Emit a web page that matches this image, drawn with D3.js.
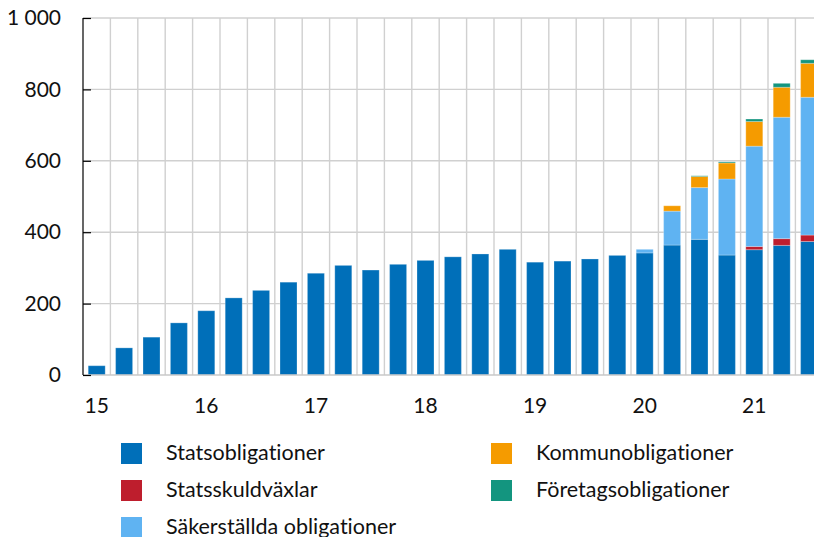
<!DOCTYPE html>
<html lang="sv">
<head>
    <meta charset="UTF-8">
    <title>Innehav</title>
    <script src="https://cdn.jsdelivr.net/npm/d3@7/dist/d3.min.js"></script>
    <style>
        html,
        body {
            margin: 0;
            background: #fff;
            overflow: hidden;
        }
        text {
            font-family: Lato, "Open Sans", sans-serif;
            font-variant-ligatures: none;
            fill: #111;
        }
    </style>
</head>
<body>
<svg id="container"></svg>
<script>
    // kvartal 2015 K1 - 2021 K3
    const quarters = [
        '15K1', '15K2', '15K3', '15K4',
        '16K1', '16K2', '16K3', '16K4',
        '17K1', '17K2', '17K3', '17K4',
        '18K1', '18K2', '18K3', '18K4',
        '19K1', '19K2', '19K3', '19K4',
        '20K1', '20K2', '20K3', '20K4',
        '21K1', '21K2', '21K3'
    ];
    const yearLabels = ['15', '16', '17', '18', '19', '20', '21'];
    const yTicks = [0, 200, 400, 600, 800, 1000];

    const statsobligationer = [26, 76, 106, 146, 180, 216, 237, 260, 285, 307, 294, 310, 321, 331, 339, 352, 316, 319, 325, 335, 342, 364, 380, 336, 351, 363, 374];
    const statsskuldvaxlar  = [0, 0, 0, 0, 0, 0, 0, 0, 0, 0, 0, 0, 0, 0, 0, 0, 0, 0, 0, 0, 0, 0, 0, 0, 9, 19, 18];
    const sakerstallda      = [0, 0, 0, 0, 0, 0, 0, 0, 0, 0, 0, 0, 0, 0, 0, 0, 0, 0, 0, 0, 10, 95, 145, 213, 281, 340, 386];
    const kommun            = [0, 0, 0, 0, 0, 0, 0, 0, 0, 0, 0, 0, 0, 0, 0, 0, 0, 0, 0, 0, 0, 15, 31, 45, 69, 84, 95];
    const foretag           = [0, 0, 0, 0, 0, 0, 0, 0, 0, 0, 0, 0, 0, 0, 0, 0, 0, 0, 0, 0, 0, 0, 2, 3, 7, 11, 10];

    const series = [
        {key: 'stats', name: 'Statsobligationer', values: statsobligationer, color: '#006fb9'},
        {key: 'vaxlar', name: 'Statsskuldväxlar', values: statsskuldvaxlar, color: '#be1e2d'},
        {key: 'saker', name: 'Säkerställda obligationer', values: sakerstallda, color: '#5fb3f2'},
        {key: 'kommun', name: 'Kommunobligationer', values: kommun, color: '#f59b00'},
        {key: 'foretag', name: 'Företagsobligationer', values: foretag, color: '#13957f'}
    ];

    const width = 814, height = 537;
    const svg = d3.select('#container')
        .attr('width', width)
        .attr('height', height);

    const plotLeft = 83, plotTop = 18, plotBottom = 375;
    const step = 27.4;

    const table = quarters.map((q, i) => {
        const row = {q};
        series.forEach(s => row[s.key] = s.values[i]);
        return row;
    });
    const stacked = d3.stack().keys(series.map(s => s.key))(table);

    const xScale = d3.scaleBand()
        .domain(quarters)
        .range([plotLeft, plotLeft + step * quarters.length])
        .paddingInner(0.38)
        .paddingOuter(0.19);

    const yScale = d3.scaleLinear()
        .domain([0, 1000])
        .range([plotBottom, plotTop]);

    // rutnät
    const grid = svg.append('g');
    grid.selectAll('line.h')
        .data(yTicks.slice(1))
        .join('line')
        .attr('class', 'h')
        .attr('x1', plotLeft).attr('x2', width)
        .attr('y1', d => yScale(d)).attr('y2', d => yScale(d))
        .attr('stroke', '#d0d0d0').attr('stroke-width', 1.4);
    grid.selectAll('line.v')
        .data(quarters.slice(1))
        .join('line')
        .attr('class', 'v')
        .attr('x1', (d, i) => plotLeft + (i + 1) * step).attr('x2', (d, i) => plotLeft + (i + 1) * step)
        .attr('y1', plotTop).attr('y2', plotBottom)
        .attr('stroke', '#d0d0d0').attr('stroke-width', 1.4);

    // staplar
    const colorOf = {};
    series.forEach(s => colorOf[s.key] = s.color);
    svg.append('g')
        .selectAll('g')
        .data(stacked)
        .join('g')
        .attr('fill', d => colorOf[d.key])
        .selectAll('rect')
        .data(d => d.filter(p => p[1] - p[0] > 0))
        .join('rect')
        .attr('x', d => xScale(d.data.q))
        .attr('width', xScale.bandwidth())
        .attr('y', d => yScale(d[1]))
        .attr('height', d => yScale(d[0]) - yScale(d[1]))
        .attr('stroke', 'rgba(255,255,255,0.25)')
        .attr('stroke-width', 1);

    // x-axel
    svg.append('line')
        .attr('x1', plotLeft).attr('x2', width)
        .attr('y1', plotBottom).attr('y2', plotBottom)
        .attr('stroke', '#c8c8c8').attr('stroke-width', 1.4);

    const xAxis = d3.axisBottom(xScale)
        .tickValues(quarters.filter(q => q.endsWith('K1')))
        .tickFormat(q => yearLabels[+q.slice(0, 2) - 15])
        .tickSize(0)
        .tickPadding(0);
    const gx = svg.append('g')
        .attr('transform', `translate(0,${plotBottom})`)
        .call(xAxis);
    gx.select('.domain').remove();
    gx.selectAll('text')
        .attr('dy', null)
        .attr('y', 38)
        .style('font-size', '21px')
        .attr('fill', '#111');

    // y-axel
    const yAxis = d3.axisRight(yScale)
        .tickValues(yTicks)
        .tickSize(8)
        .tickFormat(d => d3.format(',')(d).replace(',', ' '));
    const gy = svg.append('g')
        .attr('transform', `translate(${plotLeft},0)`)
        .call(yAxis);
    gy.select('.domain')
        .attr('d', `M0,${plotTop}V${plotBottom}`)
        .attr('stroke', '#000').attr('stroke-width', 1.2);
    gy.selectAll('.tick line').attr('stroke', '#000').attr('stroke-width', 1.2);
    gy.selectAll('text')
        .attr('x', -22)
        .attr('text-anchor', 'end')
        .style('font-size', '21px')
        .attr('fill', '#111');

    // legend
    const legendPos = [
        {x: 121, y: 443}, {x: 121, y: 480}, {x: 121, y: 517},
        {x: 491, y: 443}, {x: 491, y: 480}
    ];
    const lg = svg.append('g')
        .selectAll('g')
        .data(series)
        .join('g')
        .attr('transform', (d, i) => `translate(${legendPos[i].x},${legendPos[i].y})`);
    lg.append('rect')
        .attr('width', 21).attr('height', 21)
        .attr('fill', d => d.color);
    lg.append('text')
        .attr('x', 45)
        .attr('y', 17)
        .style('font-size', '21.5px')
        .text(d => d.name);
</script>
</body>
</html>
